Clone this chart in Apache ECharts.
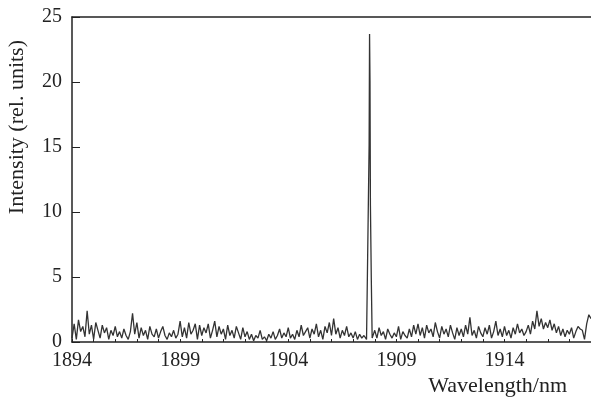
<!DOCTYPE html>
<html lang="en">

<head>
    <meta charset="UTF-8" />
    <title>Spectrum</title>
    <script src="https://cdn.jsdelivr.net/npm/echarts@6.0.0/dist/echarts.min.js"></script>
    <style>
        body { margin: 0; background: #fff; }
    </style>
</head>

<body>
    <div id="main" style="width: 591px; height: 397px"></div>
    <script type="text/javascript">
        // baseline noise, one value every 0.1 nm starting at 1894.0
        const noiseStart = 1894.0;
        const noiseStep = 0.1;
        const noise = [
            0.3, 1.4, 0.2, 1.7, 0.8, 1.2, 0.4, 2.4, 0.6, 1.3,
            0.2, 1.5, 0.9, 0.3, 1.3, 0.7, 1.1, 0.2, 0.9, 0.5,
            1.2, 0.4, 0.8, 0.3, 1.0, 0.5, 0.2, 0.8, 2.2, 0.6,
            1.5, 0.3, 1.1, 0.5, 0.9, 0.2, 1.2, 0.6, 0.4, 1.0,
            0.3, 0.8, 1.2, 0.5, 0.2, 0.7, 0.4, 0.9, 0.3, 0.6,
            1.6, 0.4, 1.1, 0.3, 1.5, 0.6, 0.9, 1.4, 0.2, 1.3,
            0.5, 1.1, 0.7, 1.4, 0.3, 0.9, 1.6, 0.4, 1.2, 0.6,
            1.0, 0.2, 1.3, 0.5, 0.9, 0.3, 1.2, 0.7, 0.2, 1.1,
            0.4, 0.8, 0.2, 0.6, 0.1, 0.5, 0.3, 0.9, 0.2, 0.4,
            0.1, 0.6, 0.3, 0.8, 0.2, 0.5, 1.0, 0.3, 0.7, 0.4,
            1.1, 0.3, 0.6, 0.2, 0.9, 0.4, 1.3, 0.5, 0.8, 1.1,
            0.3, 1.0, 0.6, 1.4, 0.4, 0.9, 0.2, 1.2, 0.7, 1.5,
            0.5, 1.8, 0.6, 1.1, 0.3, 0.9, 0.5, 1.2, 0.4, 0.7,
            0.3, 0.8, 0.2, 0.6, 0.3, 0.5, 0.2, 0.2, 0.2, 0.6,
            0.9, 0.3, 1.1, 0.5, 0.8, 0.2, 1.0, 0.6, 0.3, 0.7,
            0.4, 1.2, 0.2, 0.8, 0.5, 0.3, 1.0, 0.4, 1.3, 0.6,
            1.4, 0.5, 1.1, 0.3, 1.3, 0.7, 1.0, 0.4, 1.5, 0.8,
            0.3, 1.2, 0.6, 1.0, 0.4, 1.3, 0.7, 0.2, 1.1, 0.5,
            1.0, 0.4, 1.3, 0.6, 1.9, 0.5, 0.9, 0.3, 1.2, 0.7,
            0.4, 1.1, 0.6, 1.3, 0.3, 0.8, 1.6, 0.5, 1.0, 0.4,
            1.2, 0.5, 0.9, 0.3, 1.1, 0.6, 1.4, 0.7, 1.0, 0.5,
            0.8, 1.3, 0.6, 1.6, 1.0, 2.4, 1.2, 1.8, 1.0, 1.5,
            1.1, 1.7, 0.9, 1.4, 0.7, 1.2, 0.5, 1.0, 0.4, 0.9,
            0.6, 1.1, 0.3, 0.8, 1.2, 1.0, 0.9, 0.2, 1.4, 2.1,
            1.8
        ];

        // the emission line, sampled more finely
        const peakWave = [1907.62, 1907.66, 1907.72, 1907.74, 1907.76, 1907.78, 1907.80, 1907.84, 1907.88];
        const peakValue = [0.2, 5.1, 5.0, 15.2, 23.7, 20.1, 10.5, 4.9, 0.3];

        const xTicks = [1894, 1899, 1904, 1909, 1914];
        const yTicks = [0, 5, 10, 15, 20, 25];

        // merge noise grid and peak samples
        let points = [];
        noise.forEach((v, i) => {
            let x = +(noiseStart + i * noiseStep).toFixed(2);
            if (x > 1907.55 && x < 1907.95) return;
            points.push([x, v]);
        });
        peakWave.forEach((x, i) => points.push([x, peakValue[i]]));
        points.sort((a, b) => a[0] - b[0]);

        const font = "'Liberation Serif', 'DejaVu Serif', serif";
        const ink = "#222";

        let options = {
            animation: false,
            grid: { left: 72, right: 0, top: 17, bottom: 55 },
            xAxis: [
                {
                    type: "value",
                    min: 1894,
                    max: 1918,
                    interval: 1,
                    axisLine: { lineStyle: { color: ink, width: 1.5 } },
                    axisTick: { inside: true, length: 3, lineStyle: { color: ink } },
                    splitLine: { show: false },
                    axisLabel: {
                        customValues: xTicks,
                        formatter: (v) => String(v),
                        color: ink,
                        fontFamily: font,
                        fontSize: 20,
                        margin: 9,
                    },
                },
                {
                    type: "value",
                    position: "top",
                    min: 1894,
                    max: 1918,
                    axisLine: { show: true, lineStyle: { color: ink, width: 1.5 } },
                    axisTick: { show: false },
                    axisLabel: { show: false },
                    splitLine: { show: false },
                },
            ],
            yAxis: {
                type: "value",
                min: 0,
                max: 25,
                interval: 5,
                axisLine: { show: true, lineStyle: { color: ink, width: 1.5 } },
                axisTick: { inside: true, length: 8, lineStyle: { color: ink } },
                splitLine: { show: false },
                axisLabel: {
                    customValues: yTicks,
                    color: ink,
                    fontFamily: font,
                    fontSize: 20,
                    margin: 10,
                },
            },
            graphic: [
                {
                    type: "text",
                    right: 24,
                    bottom: 0,
                    style: { text: "Wavelength/nm", fill: ink, font: "22px " + font },
                },
                {
                    type: "text",
                    left: 6,
                    top: 40,
                    rotation: Math.PI / 2,
                    style: { text: "Intensity (rel. units)", fill: ink, font: "22px " + font },
                },
            ],
            series: [
                {
                    type: "line",
                    data: points,
                    symbol: "none",
                    lineStyle: { color: "#333", width: 1.3 },
                },
            ],
        };

        let myChart = echarts.init(document.getElementById("main"));
        myChart.setOption(options);
    </script>
</body>

</html>
